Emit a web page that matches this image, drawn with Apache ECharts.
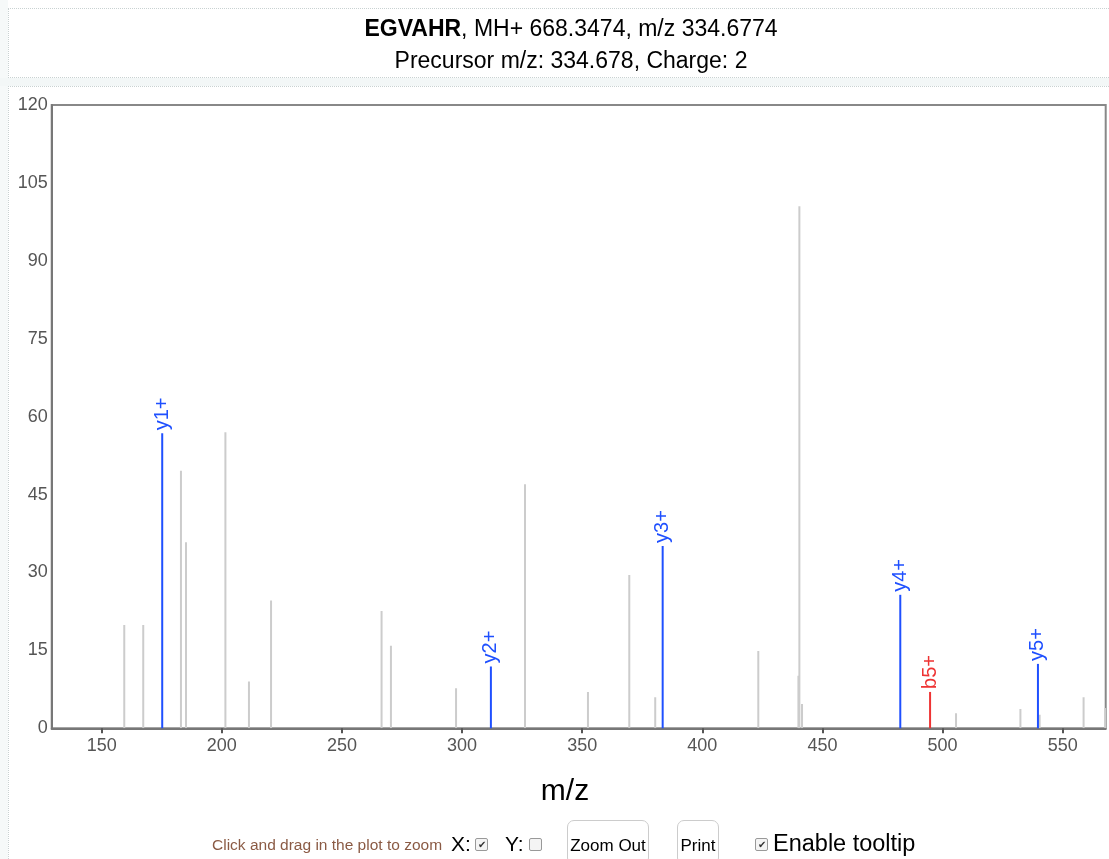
<!DOCTYPE html>
<html>
<head>
<meta charset="utf-8">
<script src="https://cdn.jsdelivr.net/npm/echarts@6/dist/echarts.min.js"></script>
<style>
  html, body { margin: 0; padding: 0; background: #fff; }
  #wrap { position: relative; width: 1109px; height: 859px; overflow: hidden; font-family: "Liberation Sans", Arial, sans-serif; }
  #leftband { position: absolute; left: 0; top: 0; width: 8px; height: 859px; background: #f6f9f9; }
  #titlebox { position: absolute; left: 8px; top: 8px; width: 1101px; height: 70px; border-top: 1px dotted #c9d2d2; border-left: 1px dotted #c9d2d2; border-bottom: 1px dotted #c9d2d2; box-sizing: border-box; }
  #sepband { position: absolute; left: 0; top: 78px; width: 1109px; height: 8px; background: #f3f7f7; }
  #chartbox { position: absolute; left: 8px; top: 86px; width: 1101px; height: 773px; border-top: 1px dotted #c9d2d2; border-left: 1px dotted #c9d2d2; box-sizing: border-box; background: #fff; }
  #chart { position: absolute; left: 0; top: 0; width: 1109px; height: 859px; }
  .hint { position: absolute; left: 212px; top: 836px; font-size: 15.5px; color: #8a5a44; white-space: nowrap; }
  .big { position: absolute; font-size: 21px; color: #000; white-space: nowrap; }
  .cb { position: absolute; width: 13px; height: 13px; border: 1px solid #999; border-radius: 2px; background: #f4f4f4; box-sizing: border-box; font-size: 10px; line-height: 11px; text-align: center; color: #333; }
  .btn { position: absolute; border: 1px solid #ccc; border-radius: 7px; background: #fff; font-size: 17px; color: #000; text-align: center; box-sizing: border-box; white-space: nowrap; }
</style>
</head>
<body>
<div id="wrap">
  <div id="leftband"></div>
  <div id="titlebox"></div>
  <div id="sepband"></div>
  <div id="chartbox"></div>
  <div id="chart"></div>
  <span class="hint">Click and drag in the plot to zoom</span>
  <span class="big" style="left:451px; top:832px;">X:</span>
  <span class="cb" style="left:475px; top:838px;">&#10004;</span>
  <span class="big" style="left:505px; top:832px;">Y:</span>
  <span class="cb" style="left:529px; top:838px;"></span>
  <div class="btn" style="left:567px; top:820px; width:82px; height:45px; padding-top:15px;">Zoom Out</div>
  <div class="btn" style="left:677px; top:820px; width:42px; height:45px; padding-top:15px;">Print</div>
  <span class="cb" style="left:755px; top:838px;">&#10004;</span>
  <span class="big" style="left:773px; top:830px; font-size:23.5px;">Enable tooltip</span>
</div>
<script>
// ---- data ----
const xTicks = [150, 200, 250, 300, 350, 400, 450, 500, 550];
const yTicks = [0, 15, 30, 45, 60, 75, 90, 105, 120];

const otherMz  = [159.4, 167.3, 183.0, 185.1, 201.5, 211.3, 220.5, 266.5, 270.4, 297.5, 326.2, 352.4, 369.6, 380.4, 423.3, 440.0, 440.4, 441.5, 505.6, 532.4, 540.4, 558.7, 567.7];
const otherInt = [19.9, 19.9, 49.6, 35.8, 57.0, 9.0, 24.6, 22.6, 15.9, 7.7, 47.0, 7.0, 29.5, 6.0, 14.9, 10.1, 100.5, 4.7, 2.9, 3.7, 2.6, 6.0, 3.9];

const yIonLabels = ['y1+', 'y2+', 'y3+', 'y4+', 'y5+'];
const yIonMz     = [175.2, 312.0, 383.5, 482.4, 539.7];
const yIonInt    = [56.8, 11.9, 35.1, 25.7, 12.4];

const bIonLabels = ['b5+'];
const bIonMz     = [494.8];
const bIonInt    = [7.0];

const titleMain = 'EGVAHR';
const titleRest = ', MH+ 668.3474, m/z 334.6774';
const subTitle  = 'Precursor m/z: 334.678, Charge: 2';
const xName = 'm/z';

// ---- chart ----
const FONT = '"Liberation Sans", Arial, sans-serif';
function pairs(a, b) { return a.map((v, i) => [v, b[i]]); }

function peakRenderer(color, labels) {
  return function (params, api) {
    const x = api.value(0), y = api.value(1);
    const top = api.coord([x, y]);
    const base = api.coord([x, 0]);
    const children = [{
      type: 'line',
      shape: { x1: top[0], y1: base[1], x2: top[0], y2: top[1] },
      style: { stroke: color, lineWidth: 2 }
    }];
    if (labels) {
      children.push({
        type: 'text',
        x: top[0], y: top[1] - 3,
        rotation: Math.PI / 2,
        style: { text: labels[params.dataIndex], fill: color, font: '20px ' + FONT, align: 'left', verticalAlign: 'middle' }
      });
    }
    return { type: 'group', children: children };
  };
}

const chart = echarts.init(document.getElementById('chart'), null, { renderer: 'canvas' });
chart.setOption({
  animation: false,
  backgroundColor: 'transparent',
  title: [
    { left: 566, top: 13, textAlign: 'center',
      text: '{b|' + titleMain + '}{n|' + titleRest + '}',
      textStyle: { fontWeight: 'normal', fontSize: 23, rich: {
        b: { fontFamily: FONT, fontSize: 23, fontWeight: 'bold', color: '#000' },
        n: { fontFamily: FONT, fontSize: 23, fontWeight: 'normal', color: '#000' } } } },
    { left: 566, top: 45, textAlign: 'center', text: subTitle,
      textStyle: { fontFamily: FONT, fontSize: 23, fontWeight: 'normal', color: '#000' } }
  ],
  grid: { left: 51.7, right: 3.3, top: 105, bottom: 130.7, show: true, borderColor: '#888', borderWidth: 2, backgroundColor: '#fff' },
  xAxis: {
    type: 'value', min: 129.2, max: 567.9,
    splitLine: { show: false },
    axisLine: { lineStyle: { color: '#777', width: 2 } },
    axisTick: { show: true, length: 5, lineStyle: { color: '#555', width: 2 }, customValues: xTicks },
    axisLabel: { customValues: xTicks, color: '#555', fontSize: 18, fontFamily: FONT, margin: 9, formatter: v => String(v) }
  },
  yAxis: {
    type: 'value', min: 0, max: 120, interval: 15,
    splitLine: { show: false },
    axisLine: { show: true, lineStyle: { color: '#777', width: 2 } },
    axisTick: { show: false },
    axisLabel: { customValues: yTicks, color: '#555', fontSize: 18, fontFamily: FONT, margin: 4 }
  },
  graphic: [
    { type: 'text', x: 565, y: 792, style: { text: xName, font: '30px ' + FONT, fill: '#000', align: 'center', verticalAlign: 'middle' } }
  ],
  series: [
    { type: 'custom', name: 'other', clip: true, renderItem: peakRenderer('#cccccc', null), data: pairs(otherMz, otherInt), z: 2 },
    { type: 'custom', name: 'y ions', clip: false, renderItem: peakRenderer('#1f50ff', yIonLabels), data: pairs(yIonMz, yIonInt), z: 3 },
    { type: 'custom', name: 'b ions', clip: false, renderItem: peakRenderer('#ee3333', bIonLabels), data: pairs(bIonMz, bIonInt), z: 3 }
  ]
});
</script>
</body>
</html>
